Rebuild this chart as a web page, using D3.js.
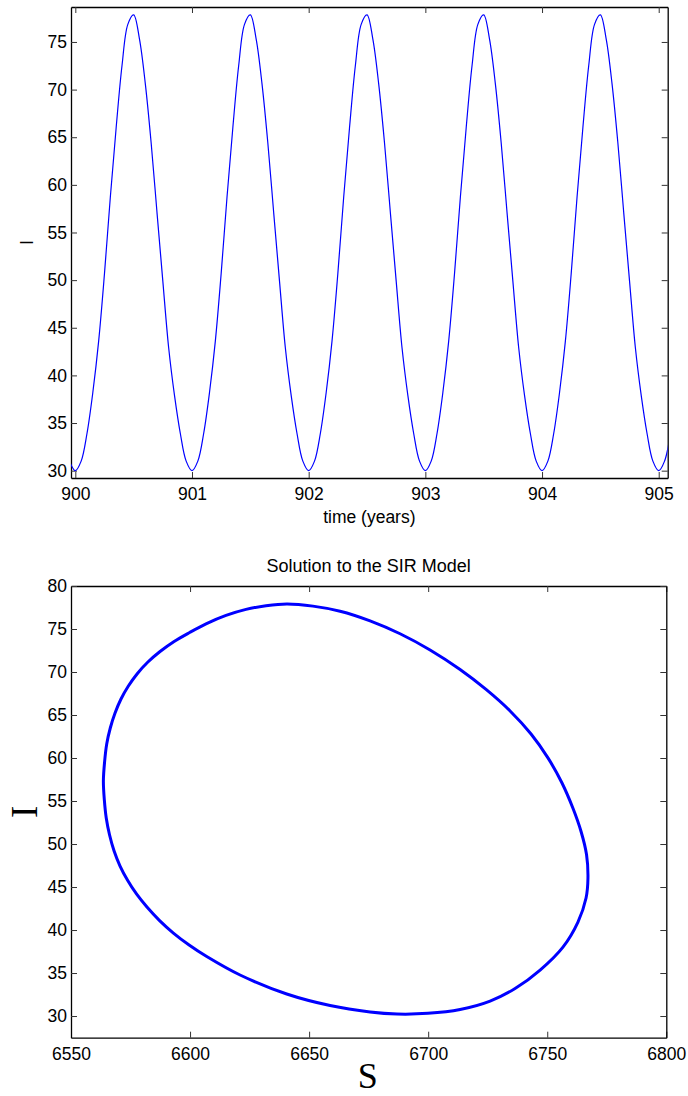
<!DOCTYPE html>
<html>
<head>
<meta charset="utf-8">
<script src="https://cdn.jsdelivr.net/npm/d3@7"></script>
<style>
  body { margin: 0; background: #fff; }
  svg { display: block; }
</style>
</head>
<body>
<div id="chart"></div>
<script>
//Time series of infected (top panel), sampled every 0.05 years
var timeYears = [899.95,
  900.00, 900.05, 900.10, 900.15, 900.20, 900.25, 900.30, 900.35, 900.40, 900.45,
  900.50, 900.55, 900.60, 900.65, 900.70, 900.75, 900.80, 900.85, 900.90, 900.95,
  901.00, 901.05, 901.10, 901.15, 901.20, 901.25, 901.30, 901.35, 901.40, 901.45,
  901.50, 901.55, 901.60, 901.65, 901.70, 901.75, 901.80, 901.85, 901.90, 901.95,
  902.00, 902.05, 902.10, 902.15, 902.20, 902.25, 902.30, 902.35, 902.40, 902.45,
  902.50, 902.55, 902.60, 902.65, 902.70, 902.75, 902.80, 902.85, 902.90, 902.95,
  903.00, 903.05, 903.10, 903.15, 903.20, 903.25, 903.30, 903.35, 903.40, 903.45,
  903.50, 903.55, 903.60, 903.65, 903.70, 903.75, 903.80, 903.85, 903.90, 903.95,
  904.00, 904.05, 904.10, 904.15, 904.20, 904.25, 904.30, 904.35, 904.40, 904.45,
  904.50, 904.55, 904.60, 904.65, 904.70, 904.75, 904.80, 904.85, 904.90, 904.95,
  905.00, 905.05, 905.10];

var infected = [31.0,
  30.0, 31.0, 33.9, 38.2, 43.6, 50.7, 58.7, 66.0, 72.5, 76.85,
  77.85, 75.3, 70.6, 64.4, 57.1, 49.9, 42.9, 37.9, 33.9, 31.0,
  30.0, 31.0, 33.9, 38.2, 43.6, 50.7, 58.7, 66.0, 72.5, 76.85,
  77.85, 75.3, 70.6, 64.4, 57.1, 49.9, 42.9, 37.9, 33.9, 31.0,
  30.0, 31.0, 33.9, 38.2, 43.6, 50.7, 58.7, 66.0, 72.5, 76.85,
  77.85, 75.3, 70.6, 64.4, 57.1, 49.9, 42.9, 37.9, 33.9, 31.0,
  30.0, 31.0, 33.9, 38.2, 43.6, 50.7, 58.7, 66.0, 72.5, 76.85,
  77.85, 75.3, 70.6, 64.4, 57.1, 49.9, 42.9, 37.9, 33.9, 31.0,
  30.0, 31.0, 33.9, 38.2, 43.6, 50.7, 58.7, 66.0, 72.5, 76.85,
  77.85, 75.3, 70.6, 64.4, 57.1, 49.9, 42.9, 37.9, 33.9, 31.0,
  30.0, 31.0, 33.9];

//Phase plane loop (bottom panel), going clockwise from the top
var loopS = [6640.7, 6651.6, 6663.0, 6675.6, 6688.2, 6700.8, 6713.4, 6724.3, 6734.4, 6743.2,
  6750.3, 6756.2, 6760.8, 6764.2, 6766.5, 6767.1,
  6766.3, 6762.9, 6756.6, 6747.0, 6736.5, 6726.0, 6713.4, 6699.9, 6686.9,
  6675.6, 6658.8, 6640.6, 6621.0, 6607.0, 6599.6, 6593.0, 6587.2, 6581.9, 6577.5,
  6573.7, 6570.6, 6568.1, 6566.2, 6564.8, 6564.0, 6563.6,
  6564.1, 6565.0, 6566.5, 6568.5, 6571.0, 6574.1, 6577.9, 6582.3, 6587.4, 6593.3,
  6599.8, 6606.7, 6615.1, 6623.5, 6631.9];
var loopI = [77.91, 77.66, 77.07, 75.95, 74.45, 72.56, 70.29, 67.97, 65.47, 62.79,
  60.02, 57.09, 54.15, 51.45, 48.77, 46.05,
  43.72, 40.93, 38.02, 35.35, 33.20, 31.74, 30.76, 30.31, 30.23,
  30.47, 31.22, 32.56, 34.77, 36.92, 38.26, 39.65, 41.10, 42.67, 44.19,
  45.81, 47.44, 49.19, 51.05, 53.02, 55.12, 57.33,
  59.53, 61.63, 63.49, 65.23, 66.86, 68.37, 69.83, 71.16, 72.38, 73.55,
  74.59, 75.60, 76.58, 77.28, 77.70];

//Tick values
var timeTicks = [900, 901, 902, 903, 904, 905];
var topITicks = [30, 35, 40, 45, 50, 55, 60, 65, 70, 75];
var sTicks = [6550, 6600, 6650, 6700, 6750, 6800];
var bottomITicks = [30, 35, 40, 45, 50, 55, 60, 65, 70, 75, 80];

var width = 688, height = 1096;
var sansFont = "'Liberation Sans', Arial, Helvetica, sans-serif";
var serifFont = "'Liberation Serif', 'Times New Roman', serif";

var svg = d3.select("#chart").append("svg").attr("width", width).attr("height", height);

//Draws a boxed panel with inward ticks on all four sides, returns the plot group
function drawPanel(box, x, y, xTicks, yTicks, id) {
  var w = box.right - box.left, h = box.bottom - box.top;
  var g = svg.append("g").attr("transform", "translate(" + box.left + "," + box.top + ")");

  g.append("clipPath").attr("id", id).append("rect").attr("width", w).attr("height", h);

  var bottomAxis = g.append("g").attr("transform", "translate(0," + h + ")")
    .call(d3.axisBottom(x).tickValues(xTicks).tickSizeInner(-6).tickSizeOuter(0).tickPadding(10).tickFormat(d3.format("d")));
  var topAxis = g.append("g")
    .call(d3.axisTop(x).tickValues(xTicks).tickSizeInner(-6).tickSizeOuter(0).tickFormat(""));
  var leftAxis = g.append("g")
    .call(d3.axisLeft(y).tickValues(yTicks).tickSizeInner(-6).tickSizeOuter(0).tickPadding(4).tickFormat(d3.format("d")));
  var rightAxis = g.append("g").attr("transform", "translate(" + w + ",0)")
    .call(d3.axisRight(y).tickValues(yTicks).tickSizeInner(-6).tickSizeOuter(0).tickFormat(""));

  [bottomAxis, topAxis, leftAxis, rightAxis].forEach(function(a) {
    a.select(".domain").attr("stroke", "#000").attr("stroke-width", 1.3);
    a.selectAll(".tick line").attr("stroke", "#333").attr("stroke-width", 1);
    a.selectAll("text").attr("fill", "#000").style("font-family", sansFont).style("font-size", "17.5px");
  });

  return g;
}

//Top panel: I against time
var topBox = {left: 71, top: 7, right: 667.7, bottom: 478};
var xTime = d3.scaleLinear().domain([899.963, 905.077]).range([0, topBox.right - topBox.left]);
var yTop = d3.scaleLinear().domain([29.23, 78.67]).range([topBox.bottom - topBox.top, 0]);
var topPanel = drawPanel(topBox, xTime, yTop, timeTicks, topITicks, "clipTop");

var timeLine = d3.line()
  .x(function(d, i) { return xTime(timeYears[i]); })
  .y(function(d) { return yTop(d); })
  .curve(d3.curveCatmullRom.alpha(0.5));

topPanel.append("path")
  .datum(infected)
  .attr("clip-path", "url(#clipTop)")
  .attr("d", timeLine)
  .attr("fill", "none")
  .attr("stroke", "#0000ff")
  .attr("stroke-width", 1.2);

svg.append("text")
  .attr("x", (topBox.left + topBox.right) / 2).attr("y", 523)
  .attr("text-anchor", "middle")
  .style("font-family", sansFont).style("font-size", "17.5px")
  .text("time (years)");

svg.append("text")
  .attr("transform", "translate(33," + (topBox.top + topBox.bottom) / 2 + ") rotate(-90)")
  .attr("text-anchor", "middle")
  .style("font-family", sansFont).style("font-size", "18px")
  .text("I");

//Bottom panel: phase plane I against S
var botBox = {left: 71, top: 586, right: 666.3, bottom: 1037.7};
var xS = d3.scaleLinear().domain([6550, 6800]).range([0, botBox.right - botBox.left]);
var yBot = d3.scaleLinear().domain([27.48, 80]).range([botBox.bottom - botBox.top, 0]);
var botPanel = drawPanel(botBox, xS, yBot, sTicks, bottomITicks, "clipBot");

var loopLine = d3.line()
  .x(function(d, i) { return xS(loopS[i]); })
  .y(function(d) { return yBot(d); })
  .curve(d3.curveCatmullRomClosed.alpha(0.5));

botPanel.append("path")
  .datum(loopI)
  .attr("clip-path", "url(#clipBot)")
  .attr("d", loopLine)
  .attr("fill", "none")
  .attr("stroke", "#0000ff")
  .attr("stroke-width", 3);

svg.append("text")
  .attr("x", (botBox.left + botBox.right) / 2).attr("y", 572)
  .attr("text-anchor", "middle")
  .style("font-family", sansFont).style("font-size", "18px")
  .text("Solution to the SIR Model");

svg.append("text")
  .attr("x", (botBox.left + botBox.right) / 2 - 1).attr("y", 1088)
  .attr("text-anchor", "middle")
  .style("font-family", serifFont).style("font-size", "36px")
  .text("S");

svg.append("text")
  .attr("transform", "translate(36.5," + (botBox.top + botBox.bottom) / 2 + ") rotate(-90)")
  .attr("text-anchor", "middle")
  .style("font-family", serifFont).style("font-size", "37px")
  .text("I");
</script>
</body>
</html>
